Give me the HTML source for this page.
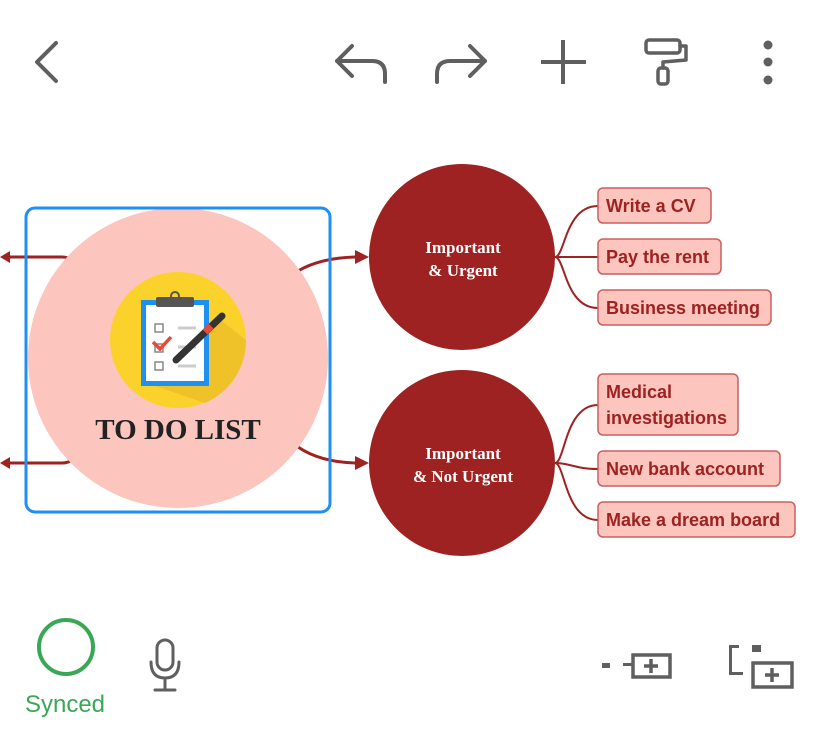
<!DOCTYPE html>
<html><head><meta charset="utf-8"><style>
html,body{margin:0;padding:0;background:#fff;}
svg{display:block;}
</style></head><body>
<svg width="824" height="751" viewBox="0 0 824 751" xmlns="http://www.w3.org/2000/svg">
<g fill="none" stroke="#5f5f5f" stroke-width="4" stroke-linecap="round" stroke-linejoin="round">
  <path d="M56 43 L37 62 L56 81"/>
  <path d="M352 46 L337 61 L352 76 M337 61 L372 61 Q385 61 385 74 L385 82"/>
  <path d="M470 46 L485 61 L470 76 M485 61 L450 61 Q437 61 437 74 L437 82"/>
  <path d="M563 40 L563 84 M541 62 L586 62" stroke-linecap="butt"/>
  <rect x="646" y="40" width="34" height="13" rx="3" stroke-width="3.5"/>
  <path d="M680 46 L686 46 L686 60 L663 62 L663 68" stroke-width="3.5"/>
  <rect x="658" y="68" width="10" height="16" rx="3" stroke-width="3.5"/>
</g>
<g fill="#5f5f5f"><circle cx="768" cy="45" r="4.5"/><circle cx="768" cy="62" r="4.5"/><circle cx="768" cy="80" r="4.5"/></g>

<g stroke="#9e2222" stroke-width="3" fill="none">
  <path d="M8 257 L62 257 Q68 257 72 260"/>
  <path d="M8 463 L62 463 Q68 463 72 460"/>
  <path d="M298 271 Q320 258 355 257"/>
  <path d="M298 447 Q320 462 355 463"/>
</g>
<g fill="#9e2222">
  <polygon points="0,257 10,251 10,263"/>
  <polygon points="0,463 10,457 10,469"/>
  <polygon points="369,257 355,250 355,264"/>
  <polygon points="369,463 355,456 355,470"/>
</g>

<circle cx="178" cy="358" r="150" fill="#fcc5bd"/>
<rect x="26" y="208" width="304" height="304" rx="9" fill="none" stroke="#1e90f0" stroke-width="3"/>
<circle cx="178" cy="340" r="68" fill="#fbd22c"/>
<path d="M218 318 L246 340 A68 68 0 0 1 205 403 L152 385 Z" fill="#efc22a"/>
<rect x="141" y="300" width="68" height="86" fill="#1e90f0"/>
<rect x="146" y="305" width="58" height="76" fill="#fff"/>
<rect x="156" y="297" width="38" height="10" rx="2" fill="#555"/>
<circle cx="175" cy="296" r="4" fill="none" stroke="#555" stroke-width="2"/>
<g fill="none" stroke="#888" stroke-width="1.5"><rect x="155" y="324" width="8" height="8"/><rect x="155" y="344" width="8" height="8"/><rect x="155" y="362" width="8" height="8"/></g>
<g stroke="#ccc" stroke-width="3"><path d="M178 328 L196 328 M178 347 L196 347 M178 366 L196 366"/></g>
<path d="M153 342 L160 349 L171 337" stroke="#e84a3a" stroke-width="3.5" fill="none"/>
<path d="M176 360 L222 316" stroke="#333" stroke-width="7" stroke-linecap="round"/>
<path d="M205 332 L211 326" stroke="#e84a3a" stroke-width="7"/>
<text x="178" y="439" text-anchor="middle" font-family="Liberation Serif, serif" font-weight="bold" font-size="29" fill="#222">TO DO LIST</text>

<circle cx="462" cy="257" r="93" fill="#9e2222"/>
<circle cx="462" cy="463" r="93" fill="#9e2222"/>
<g font-family="Liberation Serif, serif" font-weight="bold" font-size="17" fill="#fff" text-anchor="middle">
  <text x="463" y="253">Important</text><text x="463" y="276">&amp; Urgent</text>
  <text x="463" y="459">Important</text><text x="463" y="482">&amp; Not Urgent</text>
</g>

<g stroke="#9e2222" stroke-width="2" fill="none">
  <path d="M555 257 C565 257 565 206 598 206"/>
  <path d="M555 257 L598 257"/>
  <path d="M555 257 C565 257 565 308 598 308"/>
  <path d="M555 463 C565 463 565 405 598 405"/>
  <path d="M555 463 C570 463 575 469 598 469"/>
  <path d="M555 463 C565 463 565 520 598 520"/>
</g>
<g fill="#fcc5bd" stroke="#c96060" stroke-width="1.5">
  <rect x="598" y="188" width="113" height="35" rx="5"/>
  <rect x="598" y="239" width="123" height="35" rx="5"/>
  <rect x="598" y="290" width="173" height="35" rx="5"/>
  <rect x="598" y="374" width="140" height="61" rx="5"/>
  <rect x="598" y="451" width="182" height="35" rx="5"/>
  <rect x="598" y="502" width="197" height="35" rx="5"/>
</g>
<g font-family="Liberation Sans, sans-serif" font-weight="bold" font-size="18" fill="#9e2222">
  <text x="606" y="212">Write a CV</text>
  <text x="606" y="263">Pay the rent</text>
  <text x="606" y="314">Business meeting</text>
  <text x="606" y="398">Medical</text>
  <text x="606" y="424">investigations</text>
  <text x="606" y="475">New bank account</text>
  <text x="606" y="526">Make a dream board</text>
</g>

<circle cx="66" cy="647" r="27" fill="none" stroke="#3aa757" stroke-width="4"/>
<text x="65" y="712" text-anchor="middle" font-family="Liberation Sans, sans-serif" font-size="24" fill="#3aa757">Synced</text>

<g fill="none" stroke="#5f5f5f" stroke-width="3" stroke-linecap="round">
  <rect x="157" y="640" width="16" height="30" rx="8"/>
  <path d="M151 662 Q151 678 165 678 Q179 678 179 662 M165 678 L165 690 M155 690 L175 690"/>
</g>
<g fill="#5f5f5f">
  <rect x="602" y="663" width="8" height="5"/>
  <rect x="623" y="663" width="10" height="3"/>
  <rect x="729" y="645" width="3" height="30"/><rect x="729" y="645" width="10" height="3"/>
  <rect x="752" y="645" width="9" height="7"/><rect x="729" y="672" width="14" height="3"/>
</g>
<g fill="none" stroke="#5f5f5f" stroke-width="3.5">
  <rect x="633" y="655" width="37" height="22"/>
  <rect x="753" y="663" width="39" height="24"/>
</g>
<path d="M651 659 V673 M644 666 H658 M772 668 V682 M765 675 H779" stroke="#5f5f5f" stroke-width="3.5"/>
</svg>
</body></html>
